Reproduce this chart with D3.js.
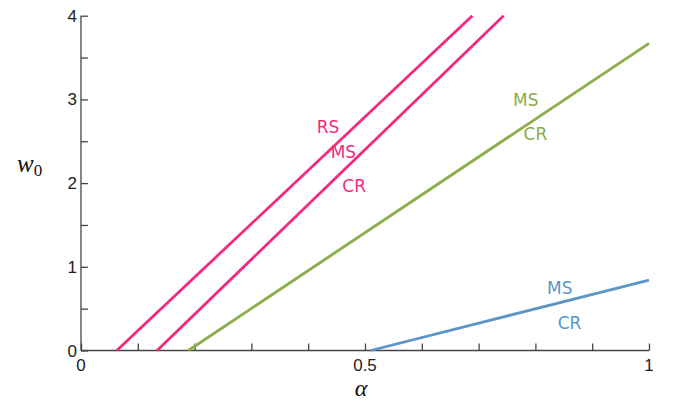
<!DOCTYPE html>
<html>
<head>
<meta charset="utf-8">
<script src="https://cdn.jsdelivr.net/npm/d3@7"></script>
<style>
  html, body { margin: 0; padding: 0; background: #fff; }
  svg { display: block; }
</style>
</head>
<body>
<svg id="chart" width="673" height="402"></svg>
<script>
// Boundary lines in the (alpha, w0) plane: [alpha, w0] endpoints
const rsLine   = [[0.063, 0], [0.689, 4]];
const msLine   = [[0.134, 0], [0.744, 4]];
const greenLine = [[0.189, 0], [1.0, 3.67]];
const blueLine  = [[0.51, 0], [1.0, 0.84]];

// Region labels: [text, alpha, w0]
const pinkLabels  = [["RS", 0.435, 2.60], ["MS", 0.462, 2.30], ["CR", 0.481, 1.89]];
const greenLabels = [["MS", 0.783, 2.92], ["CR", 0.800, 2.51]];
const blueLabels  = [["MS", 0.843, 0.68], ["CR", 0.860, 0.26]];

const xTickLabels = [0, 0.5, 1];
const yTickLabels = [0, 1, 2, 3, 4];
const xMinorTicks = d3.range(0, 1.0001, 0.1);
const yMinorTicks = d3.range(0, 4.0001, 0.5);

const pink = "#f52a7f", green = "#8aad48", blue = "#5b96c8";

const svg = d3.select("#chart");
const x = d3.scaleLinear().domain([0, 1]).range([81, 649]);
const y = d3.scaleLinear().domain([0, 4]).range([350.5, 15.7]);

const axisColor = "#444";
const tickFont = "Liberation Sans, Arial, sans-serif";

// Axes with inward ticks
const xAxis = d3.axisTop(x).tickValues(xMinorTicks).tickSize(7).tickFormat("");
svg.append("g").attr("transform", `translate(0,${y(0)})`).call(xAxis)
  .call(g => g.select(".domain").attr("d", `M${x(0)},0H${x(1)}`))
  .call(g => g.selectAll("path, line").attr("stroke", axisColor).attr("stroke-width", 1.3));

const yAxis = d3.axisRight(y).tickValues(yMinorTicks).tickSize(7).tickFormat("");
svg.append("g").attr("transform", `translate(${x(0)},0)`).call(yAxis)
  .call(g => g.select(".domain").attr("d", `M0,${y(0)}V${y(4)}`))
  .call(g => g.selectAll("path, line").attr("stroke", axisColor).attr("stroke-width", 1.3));

// Tick labels
svg.append("g").selectAll("text").data(xTickLabels).join("text")
  .attr("x", d => x(d)).attr("y", y(0) + 20)
  .attr("text-anchor", "middle")
  .attr("font-family", tickFont).attr("font-size", 17).attr("fill", "#222")
  .text(d => d);

svg.append("g").selectAll("text").data(yTickLabels).join("text")
  .attr("x", x(0) - 4).attr("y", d => y(d) + 6)
  .attr("text-anchor", "end")
  .attr("font-family", tickFont).attr("font-size", 17).attr("fill", "#222")
  .text(d => d);

// Axis titles
svg.append("text").attr("x", 361).attr("y", 396).attr("text-anchor", "middle")
  .attr("font-family", "Liberation Serif, serif").attr("font-style", "italic")
  .attr("font-size", 24).attr("fill", "#111").text("α");

const wl = svg.append("text").attr("x", 17).attr("y", 172)
  .attr("font-family", "Liberation Serif, serif").attr("font-style", "italic")
  .attr("font-size", 25).attr("fill", "#111");
wl.append("tspan").text("w");
wl.append("tspan").attr("font-style", "normal").attr("font-size", 17).attr("dy", 4).text("0");

// Lines
const line = d3.line().x(d => x(d[0])).y(d => y(d[1]));
[[rsLine, pink], [msLine, pink], [greenLine, green], [blueLine, blue]].forEach(([pts, c]) => {
  svg.append("path").attr("d", line(pts)).attr("fill", "none")
    .attr("stroke", c).attr("stroke-width", 2.8);
});

// Region labels
const labelFont = "DejaVu Sans, Verdana, sans-serif";
[[pinkLabels, pink], [greenLabels, green], [blueLabels, blue]].forEach(([labels, c]) => {
  svg.append("g").selectAll("text").data(labels).join("text")
    .attr("x", d => x(d[1])).attr("y", d => y(d[2]))
    .attr("text-anchor", "middle")
    .attr("font-family", labelFont).attr("font-size", 17).attr("fill", c)
    .text(d => d[0]);
});
</script>
</body>
</html>
